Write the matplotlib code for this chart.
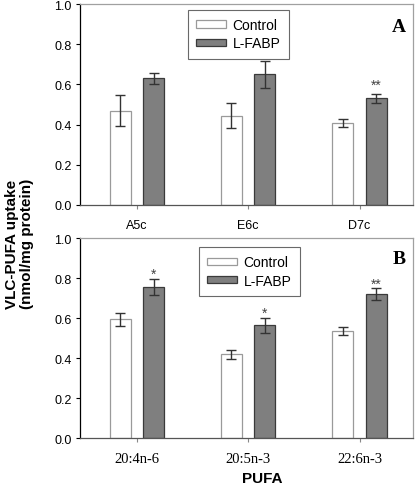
import matplotlib
matplotlib.use("Agg")
import matplotlib.pyplot as plt
import numpy as np

cats_a = ["A5c", "E6c", "D7c"]
ctrl_a = [0.47, 0.445, 0.41]
ctrl_a_err = [0.078, 0.060, 0.020]
fabp_a = [0.63, 0.65, 0.53]
fabp_a_err = [0.027, 0.068, 0.023]
sig_a = ["", "", "**"]

cats_b = ["20:4n-6", "20:5n-3", "22:6n-3"]
ctrl_b = [0.595, 0.42, 0.535]
ctrl_b_err = [0.033, 0.022, 0.020]
fabp_b = [0.758, 0.565, 0.72]
fabp_b_err = [0.040, 0.038, 0.030]
sig_b = ["*", "*", "**"]

plt.rcParams['font.family'] = ['Liberation Sans', 'DejaVu Sans']

fig = plt.figure(figsize=(4.16, 4.85), dpi=100)
W, H = 416, 485
ax1 = fig.add_axes([80 / W, 1 - 206 / H, 333 / W, 201 / H])
ax2 = fig.add_axes([80 / W, 1 - 439.3 / H, 333 / W, 200 / H])

width = 0.19
off = 0.15
serif = ["Liberation Serif", "DejaVu Serif"]


def draw(ax, cats, c, ce, f, fe, sig, letter, serif_ticks, star_off, letter_y):
    x = np.arange(len(cats))
    ax.bar(x - off, c, width, color="white", edgecolor="#9a9a9a", linewidth=0.9,
           label="Control", zorder=2)
    ax.bar(x + off, f, width, color="#7f7f7f", edgecolor="#3a3a3a", linewidth=0.9,
           label="L-FABP", zorder=2)
    ax.errorbar(x - off, c, yerr=ce, fmt="none", ecolor="#333333", elinewidth=1.0,
                capsize=3.5, capthick=1.0, zorder=3)
    ax.errorbar(x + off, f, yerr=fe, fmt="none", ecolor="#333333", elinewidth=1.0,
                capsize=3.5, capthick=1.0, zorder=3)
    for xi, v, e, s in zip(x, f, fe, sig):
        if s:
            ax.text(xi + off, v + e + star_off, s, ha="center", va="baseline",
                    fontsize=10, color="#444444")
    ax.set_xlim(-0.51, 2.48)
    ax.set_ylim(0, 1.0)
    ticks = np.arange(0, 1.01, 0.2)
    ax.set_yticks(ticks)
    ax.set_yticklabels([f"{t:.1f}" for t in ticks], fontsize=9)
    ax.set_xticks(x)
    if serif_ticks:
        ax.set_xticklabels(cats, fontsize=10.5, family=serif)
    else:
        ax.set_xticklabels(cats, fontsize=9)
    ax.tick_params(axis="y", direction="out", length=3, width=0.8, color="black", pad=3)
    ax.tick_params(axis="x", direction="out", length=3, width=0.8, color="#888888", pad=7)
    ax.spines["left"].set_color("black")
    ax.spines["bottom"].set_color("#555555")
    ax.spines["top"].set_color("#a0a0a0")
    ax.spines["right"].set_color("#a0a0a0")
    for sp in ax.spines.values():
        sp.set_linewidth(0.9)
    ax.text(0.979, letter_y, letter, transform=ax.transAxes, ha="right", va="baseline",
            fontsize=14, fontweight="bold", family=serif)
    return ax


draw(ax1, cats_a, ctrl_a, ctrl_a_err, fabp_a, fabp_a_err, sig_a, "A", False, 0.025, 0.867)
draw(ax2, cats_b, ctrl_b, ctrl_b_err, fabp_b, fabp_b_err, sig_b, "B", True, 0.004, 0.875)


def legend(ax, x0, y0):
    leg = ax.legend(loc="upper left", bbox_to_anchor=(x0, y0), borderaxespad=0,
                    fontsize=10, frameon=True, fancybox=False, handlelength=2.1,
                    handleheight=0.45, borderpad=0.6, labelspacing=0.3,
                    handletextpad=0.5)
    leg.get_frame().set_edgecolor("#444444")
    leg.get_frame().set_linewidth(0.8)
    return leg


legend(ax1, (188 - 80) / 333, 1 - (10.7 - 5) / 201)
legend(ax2, (199 - 80) / 333, 1 - (248 - 239.3) / 200)

fig.text(19.5 / W, 1 - 244 / H, "VLC-PUFA uptake\n(nmol/mg protein)", rotation=90,
         ha="center", va="center", fontsize=11, fontweight="bold", linespacing=1.05)
fig.text(262 / W, 1 - 479 / H, "PUFA", ha="center", va="center",
         fontsize=11, fontweight="bold")

fig.savefig("out.png", dpi=100)
